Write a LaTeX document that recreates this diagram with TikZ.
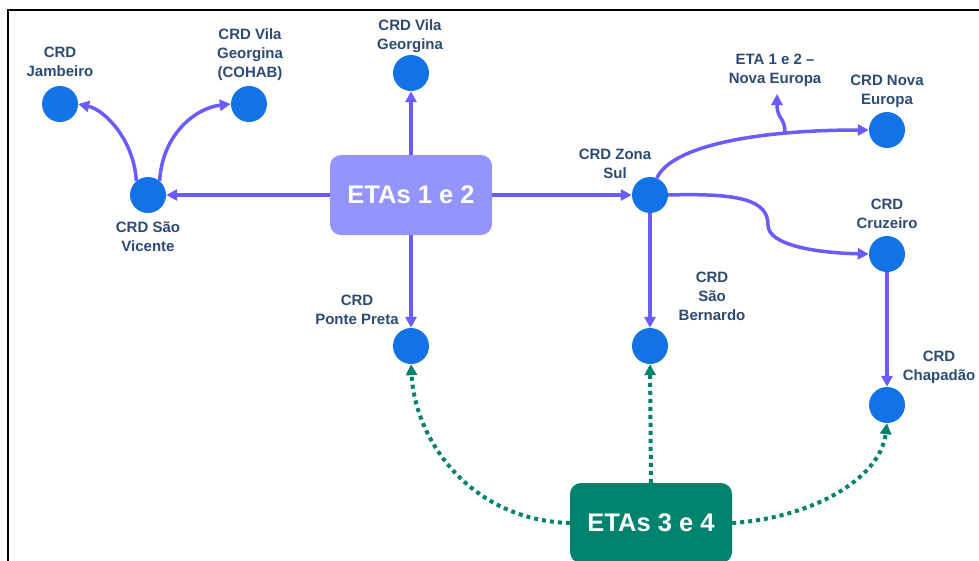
\documentclass[tikz,border=0pt]{standalone}
\usepackage{fontspec}
\setmainfont{Liberation Sans}
\usetikzlibrary{arrows.meta}

\definecolor{crdblue}{RGB}{18,115,230}
\definecolor{flow}{RGB}{106,92,255}
\definecolor{etalav}{RGB}{148,148,255}
\definecolor{etagreen}{RGB}{0,131,110}
\definecolor{labeltxt}{RGB}{44,74,118}

\begin{document}
\begin{tikzpicture}[x=1pt,y=-1pt,
  crd/.style={circle,fill=crdblue,minimum size=36pt,inner sep=0pt},
  lbl/.style={font=\bfseries\fontsize{15}{19}\selectfont,text=labeltxt,align=center,inner sep=0pt},
  plant/.style={rounded corners=11pt,minimum width=162pt,minimum height=80pt,inner sep=0pt,
                font=\bfseries\fontsize{25.5}{28}\selectfont,text=white},
  feed/.style={draw=flow,line width=3.5pt,-{Triangle[length=11pt,width=11pt]}},
  backup/.style={draw=etagreen,line width=4pt,dash pattern=on 4pt off 4pt,
                 -{Triangle[length=11pt,width=11pt]}}
]
\useasboundingbox (0,0) rectangle (979,560);

% frame
\draw[line width=2pt] (7.5,561) -- (7.5,10) -- (980,10);

% distribution reservoirs
\node[crd] (jam)   at (60,104)  {};
\node[crd] (cohab) at (249,104) {};
\node[crd] (sv)    at (148,195) {};
\node[crd] (vg)    at (411,73)  {};
\node[crd] (zs)    at (650,195) {};
\node[crd] (ne)    at (887,130) {};
\node[crd] (cru)   at (887,254) {};
\node[crd] (pp)    at (411,346) {};
\node[crd] (sb)    at (650,346) {};
\node[crd] (chp)   at (887,405) {};

% treatment plants
\node[plant,fill=etalav]   (eta12) at (411,195) {ETAs 1 e 2};
\node[plant,fill=etagreen] (eta34) at (651,523) {ETAs 3 e 4};

% labels
\node[lbl] (l-jam)   at (60,62)   {CRD\\Jambeiro};
\node[lbl] (l-cohab) at (250,55)  {CRD Vila\\Georgina\\(COHAB)};
\node[lbl] (l-sv)    at (148,237) {CRD São\\Vicente};
\node[lbl] (l-vg)    at (410,36)  {CRD Vila\\Georgina};
\node[lbl] (l-zs)    at (615,164) {CRD Zona\\Sul};
\node[lbl] (l-etane) at (775,70)  {ETA 1 e 2 –\\Nova Europa};
\node[lbl] (l-ne)    at (887,91)  {CRD Nova\\Europa};
\node[lbl] (l-cru)   at (887,214) {CRD\\Cruzeiro};
\node[lbl] (l-sb)    at (712,296) {CRD\\São\\Bernardo};
\node[lbl] (l-pp)    at (357,310) {CRD\\Ponte Preta};
\node[lbl] (l-chp)   at (939,367) {CRD\\Chapadão};

% feeds from ETAs 1 e 2
\draw[feed] (eta12.west)  -- (sv.east);
\draw[feed] (eta12.north) -- (vg.south);
\draw[feed] (eta12.east)  -- (zs.west);
\draw[feed] (eta12.south) -- (pp.north);

% from São Vicente
\draw[feed] (sv.130) .. controls (134,140) and (105,110) .. (jam.east);
\draw[feed] (sv.50)  .. controls (162,135) and (195,108) .. (cohab.west);

% from Zona Sul
\coordinate (ne-split) at (785,134);
\coordinate (eta-ne)   at (777,94);
\draw[feed] (zs.68) .. controls (672,145) and (760,130) .. (ne.west);
\draw[feed] (ne-split) .. controls (785,116) and (777,120) .. (eta-ne);
\draw[feed] (zs.east) .. controls (740,193) and (768,200) .. (768,225)
                      .. controls (768,246) and (820,253) .. (cru.west);
\draw[feed] (zs.south) -- (sb.north);
\draw[feed] (cru.south) -- (chp.north);

% backup links from ETAs 3 e 4
\draw[backup] (eta34.west)  .. controls (470,520) and (415,440) .. (pp.south);
\draw[backup] (eta34.north) -- (sb.south);
\draw[backup] (eta34.east)  .. controls (810,518) and (880,480) .. (chp.south);
\end{tikzpicture}
\end{document}
